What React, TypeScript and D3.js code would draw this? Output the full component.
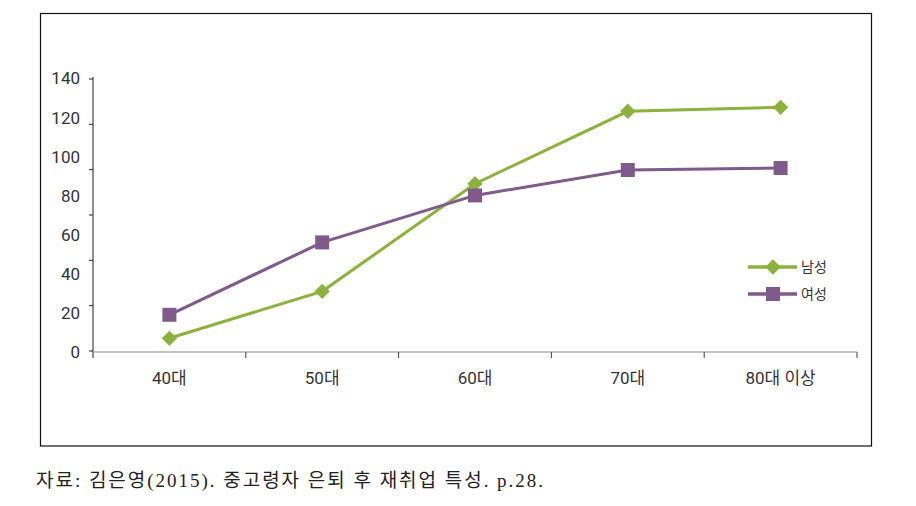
import React from "react";
import * as d3 from "d3";

const categories = ["40대", "50대", "60대", "70대", "80대 이상"];
const menValues = [7, 31, 86, 123, 125];
const womenValues = [19, 56, 80, 93, 94];
const yTickLabels = [0, 20, 40, 60, 80, 100, 120, 140];
const seriesNames = ["남성", "여성"];
const caption = "자료: 김은영(2015). 중고령자 은퇴 후 재취업 특성. p.28.";

const W = 916;
const H = 506;
const GREEN = "#8cb23d";
const PURPLE = "#7f5b8b";
const numFont = "Roboto, 'Noto Sans CJK KR', sans-serif";

export default function App() {
  const left = 93;
  const right = 857;
  const x = d3.scaleBand<string>().domain(categories).range([left, right]);
  const y = d3.scaleLinear().domain([0, 140]).range([352, 78]);
  // tick marks on the y axis are spaced on their own grid in the original
  const tickScale = d3.scaleLinear().domain([0, 6]).range([351, 79]);
  const cx = (c: string) => (x(c) ?? 0) + x.bandwidth() / 2;

  const line = d3
    .line<number>()
    .x((_, i) => cx(categories[i]))
    .y((d) => y(d));

  const diamond = d3.symbol().type(d3.symbolDiamond2).size(150)();
  const boundaries = categories.map((c) => (x(c) ?? 0) + x.bandwidth());

  return (
    <svg width={W} height={H} style={{ position: "absolute", left: 0, top: 0, background: "#fff" }}>
      <rect x={0} y={0} width={W} height={H} fill="#fff" />
      {/* frame */}
      <rect x={40.5} y={13.5} width={831} height={432.5} fill="none" stroke="#111" strokeWidth={1.2} />

      {/* y axis */}
      <line x1={left} x2={left} y1={77} y2={358} stroke="#222" strokeWidth={1} />
      {d3.range(0, 7).map((i) => (
        <line key={i} x1={left - 4} x2={left} y1={tickScale(i)} y2={tickScale(i)} stroke="#222" strokeWidth={1} />
      ))}
      {yTickLabels.map((v) => (
        <text
          key={v}
          x={80}
          y={y(v) + 2}
          textAnchor="end"
          dominantBaseline="middle"
          fontFamily={numFont}
          fontSize={17}
          fill="#333"
        >
          {v}
        </text>
      ))}

      {/* x axis */}
      <line x1={left} x2={right} y1={352} y2={352} stroke="#8a8a8a" strokeWidth={1.2} />
      {boundaries.map((bx, i) => (
        <line key={i} x1={bx} x2={bx} y1={352} y2={358} stroke="#444" strokeWidth={1} />
      ))}
      {categories.map((c) => (
        <text
          key={c}
          x={cx(c)}
          y={380}
          textAnchor="middle"
          dominantBaseline="middle"
          fontFamily={numFont}
          fontSize={17}
          fill="#333"
        >
          {c}
        </text>
      ))}

      {/* series */}
      <path d={line(menValues) ?? ""} fill="none" stroke={GREEN} strokeWidth={3} />
      <path d={line(womenValues) ?? ""} fill="none" stroke={PURPLE} strokeWidth={3} />
      {menValues.map((v, i) => (
        <path key={i} d={diamond ?? ""} transform={`translate(${cx(categories[i])},${y(v)})`} fill={GREEN} />
      ))}
      {womenValues.map((v, i) => (
        <rect key={i} x={cx(categories[i]) - 7} y={y(v) - 7} width={14} height={14} fill={PURPLE} />
      ))}

      {/* legend */}
      {seriesNames.map((name, i) => {
        const ly = 267 + i * 27;
        const col = i === 0 ? GREEN : PURPLE;
        return (
          <g key={name}>
            <line x1={748} x2={797} y1={ly} y2={ly} stroke={col} strokeWidth={3.5} />
            {i === 0 ? (
              <path d={diamond ?? ""} transform={`translate(773,${ly})`} fill={col} />
            ) : (
              <rect x={766} y={ly - 7} width={14} height={14} fill={col} />
            )}
            <text x={801} y={ly + 1} dominantBaseline="middle" fontFamily="'Noto Sans CJK KR', sans-serif" fontSize={14} fill="#333">
              {name}
            </text>
          </g>
        );
      })}

      {/* caption */}
      <text
        x={36}
        y={487}
        fontFamily="'Liberation Serif', 'Noto Sans CJK KR', serif"
        fontSize={19}
        fill="#222"
        textLength={507}
        lengthAdjust="spacing"
      >
        {caption}
      </text>
    </svg>
  );
}
